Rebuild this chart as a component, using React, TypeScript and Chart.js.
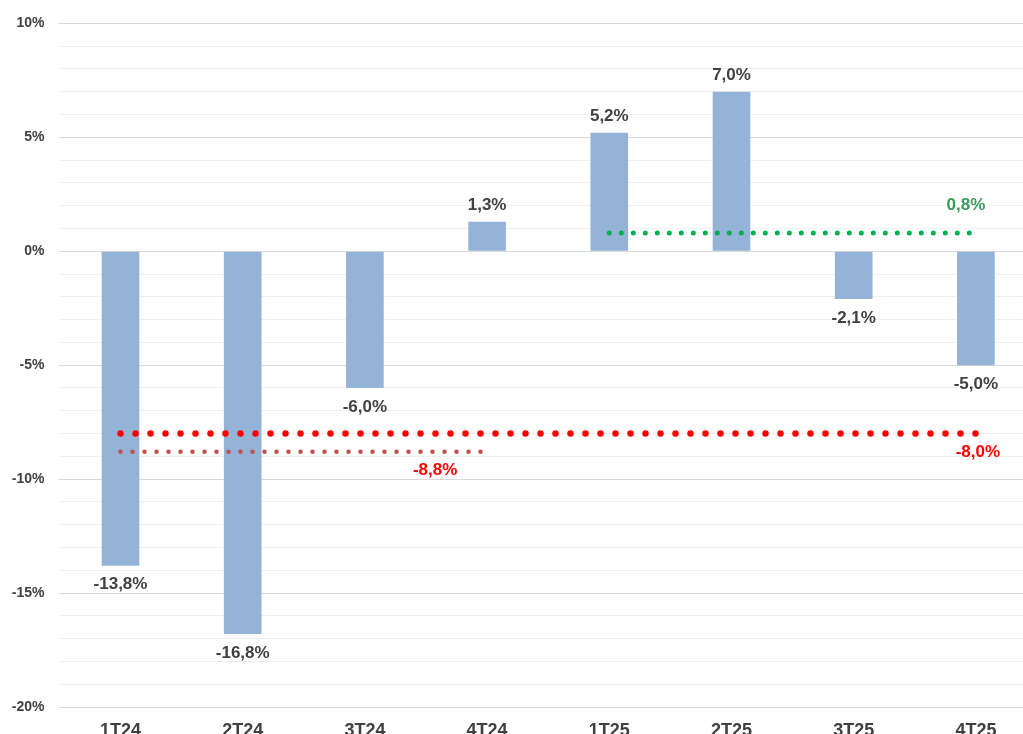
import React, { useEffect, useRef } from "react";
import { Chart, registerables } from "chart.js";

Chart.register(...registerables);

// Quarterly variation (%)
const quarters = ["1T24", "2T24", "3T24", "4T24", "1T25", "2T25", "3T25", "4T25"];
const variation = [-13.8, -16.8, -6.0, 1.3, 5.2, 7.0, -2.1, -5.0];

// Reference averages
const avgAll = -8.0; // whole period
const avg2024 = -8.8; // 1T24..4T24
const avg2025 = 0.8; // 1T25..4T25

const avgAllSeries = quarters.map(() => avgAll);
const avg2024Series = quarters.map((_, i) => (i <= 3 ? avg2024 : null));
const avg2025Series = quarters.map((_, i) => (i >= 4 ? avg2025 : null));

const yTicksMajor = [10, 5, 0, -5, -10, -15, -20];

const fmt = (v: number) => v.toFixed(1).replace(".", ",") + "%";

const FONT = "'Liberation Sans', Arial, sans-serif";
const TEXT = "#404040";

const labelPlugin = {
  id: "valueLabels",
  afterDatasetsDraw(chart: any) {
    const { ctx, scales } = chart;
    const meta = chart.getDatasetMeta(0);
    ctx.save();
    ctx.font = `bold 17px ${FONT}`;
    ctx.fillStyle = TEXT;
    ctx.textAlign = "center";
    ctx.textBaseline = "middle";
    meta.data.forEach((bar: any, i: number) => {
      const v = variation[i];
      const y = v >= 0 ? bar.y - 16.5 : bar.y + 19;
      ctx.fillText(fmt(v), bar.x, y);
    });

    const x = scales.x;
    const y = scales.y;
    // average labels
    ctx.fillStyle = "#3a9a5c";
    ctx.fillText(fmt(avg2025), x.getPixelForValue(7) - 10, y.getPixelForValue(avg2025) - 27.5);
    ctx.fillStyle = "#ff0000";
    ctx.fillText(fmt(avgAll), x.getPixelForValue(7) + 2, y.getPixelForValue(avgAll) + 19);
    ctx.fillText(fmt(avg2024), x.getPixelForValue(3) - 52, y.getPixelForValue(avg2024) + 18.5);
    ctx.restore();
  },
};

export default function App() {
  const ref = useRef<HTMLCanvasElement>(null);

  useEffect(() => {
    document.body.style.margin = "0";
    const canvas = ref.current!;
    const chart = new Chart(canvas, {
      type: "bar",
      data: {
        labels: quarters,
        datasets: [
          {
            type: "bar",
            data: variation,
            backgroundColor: "#95b3d7",
            barPercentage: 0.308,
            categoryPercentage: 1,
            order: 2,
          },
          {
            type: "line",
            data: avgAllSeries,
            borderColor: "#ff0000",
            borderWidth: 6.5,
            borderDash: [0, 15],
            borderCapStyle: "round",
            pointRadius: 0,
            order: 1,
          },
          {
            type: "line",
            data: avg2024Series,
            borderColor: "#c0504d",
            borderWidth: 4.5,
            borderDash: [0, 12],
            borderCapStyle: "round",
            pointRadius: 0,
            spanGaps: false,
            order: 1,
          },
          {
            type: "line",
            data: avg2025Series,
            borderColor: "#00b050",
            borderWidth: 5,
            borderDash: [0, 12],
            borderCapStyle: "round",
            pointRadius: 0,
            spanGaps: false,
            order: 1,
          },
        ] as any,
      },
      options: {
        animation: false,
        responsive: false,
        devicePixelRatio: 1,
        layout: { padding: { top: 21, right: 3, left: 0, bottom: 0 } },
        plugins: {
          legend: { display: false },
          tooltip: { enabled: false },
        },
        scales: {
          x: {
            grid: { display: false },
            border: { display: true, color: "#d9d9d9" },
            ticks: {
              color: TEXT,
              font: { family: FONT, size: 18, weight: "bold" },
              padding: 5,
            },
            afterFit: (s: any) => {
              s.height = 27;
            },
          },
          y: {
            min: -20,
            max: 10,
            border: { display: false },
            grid: {
              drawTicks: false,
              color: (c: any) =>
                yTicksMajor.includes(c.tick?.value) ? "#d9d9d9" : "#f0f0f0",
              lineWidth: 1,
            },
            ticks: {
              stepSize: 1,
              padding: 15,
              color: TEXT,
              font: { family: FONT, size: 14, weight: "bold" },
              callback: (v: any) => (yTicksMajor.includes(Number(v)) ? `${v}%` : ""),
            },
            afterFit: (s: any) => {
              s.width = 59.4;
            },
          },
        },
      },
      plugins: [labelPlugin],
    });
    return () => chart.destroy();
  }, []);

  return (
    <div style={{ width: 1023, height: 734, overflow: "hidden", background: "#fff" }}>
      <canvas ref={ref} width={1040} height={734} style={{ display: "block" }} />
    </div>
  );
}
